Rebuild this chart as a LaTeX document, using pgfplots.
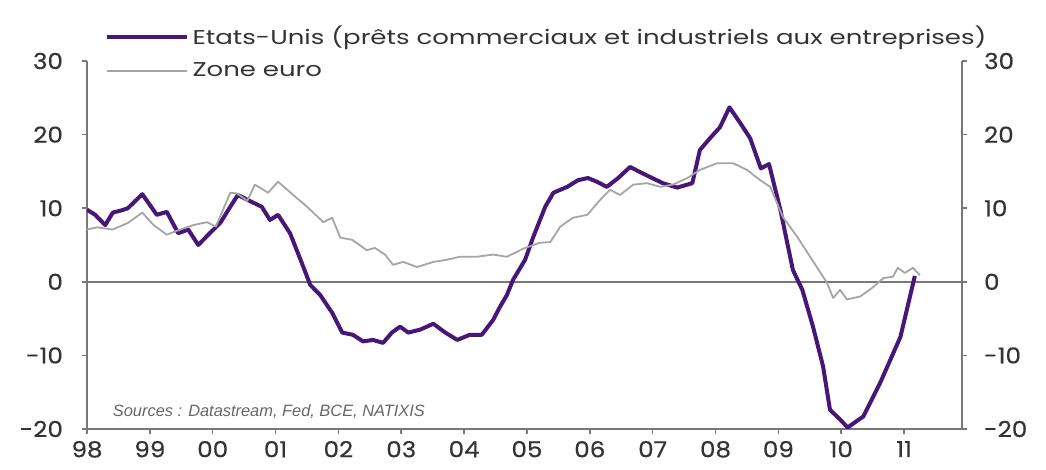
\documentclass[border=0pt]{standalone}
\usepackage{pgfplots}
\pgfplotsset{compat=1.18}
\usepackage{fontspec}
\setmainfont{Poppins}[FakeStretch=1.3]
\newfontfamily\tickfont{Poppins}[FakeStretch=1.12, FakeBold=0.4]
\newfontfamily\srcfont{Liberation Sans}
\definecolor{usviolet}{RGB}{72,22,118}
\definecolor{eurogray}{RGB}{165,165,165}
\definecolor{axgray}{RGB}{120,120,120}
\begin{document}
\begin{tikzpicture}
\pgfplotsset{
  common/.style={
    scale only axis, width=437.5pt, height=184pt,
    xmin=1998, xmax=2011.92, ymin=-20, ymax=30,
    ytick={-20,-10,0,10,20,30},
    yticklabels={-20,-10,0,10,20,30},
    tick align=outside, major tick length=2.5pt,
    axis line style={axgray, line width=1pt},
    tick style={axgray, line width=0.8pt},
    /pgf/number format/assume math mode=true,
    ticklabel style={font=\tickfont\fontsize{11}{13}\selectfont, text=black!80},
  }
}
\begin{axis}[common,
  axis x line*=bottom, axis y line*=left,
  xtick={1998,...,2011},
  xticklabels={98,99,00,01,02,03,04,05,06,07,08,09,10,11},
  yticklabel style={xshift=-6pt},
  legend style={at={(axis description cs:0.02,1.107)}, anchor=north west,
    draw=none, fill=none, font=\fontsize{10}{12}\selectfont,
    row sep=3.5pt, inner sep=0pt, text=black!80,
    legend cell align=left},
  legend image code/.code={\draw[#1] (0cm,0cm) -- (1.4cm,0cm);},
]
\addplot[axgray, line width=1pt, forget plot] coordinates {(1998,0) (2011.92,0)};
\addplot[usviolet, line width=2pt, line join=round] coordinates {
(1998.00,9.8) (1998.13,9.1) (1998.29,7.7) (1998.41,9.4) (1998.55,9.7) (1998.65,10.0)
(1998.88,11.9) (1999.11,9.1) (1999.27,9.5) (1999.45,6.6) (1999.61,7.1) (1999.77,5.0)
(1999.93,6.4) (2000.12,8.0) (2000.28,10.2) (2000.40,11.8) (2000.56,11.1) (2000.78,10.2)
(2000.91,8.4) (2001.04,9.1) (2001.23,6.6) (2001.42,2.5) (2001.55,-0.4) (2001.71,-1.8)
(2001.90,-4.2) (2002.06,-6.9) (2002.23,-7.2) (2002.39,-8.1) (2002.55,-7.9) (2002.71,-8.3)
(2002.85,-6.9) (2002.98,-6.1) (2003.11,-6.9) (2003.30,-6.5) (2003.51,-5.7) (2003.70,-6.9)
(2003.89,-7.9) (2004.09,-7.2) (2004.28,-7.2) (2004.46,-5.2) (2004.57,-3.4) (2004.68,-1.8)
(2004.78,0.3) (2004.97,3.0) (2005.10,6.1) (2005.29,10.2) (2005.42,12.1) (2005.64,12.9)
(2005.81,13.8) (2005.97,14.1) (2006.11,13.6) (2006.27,12.9) (2006.45,14.1) (2006.64,15.6)
(2006.80,14.9) (2006.99,14.1) (2007.16,13.4) (2007.39,12.8) (2007.63,13.4) (2007.75,17.9)
(2007.91,19.5) (2008.07,21.0) (2008.22,23.7) (2008.39,21.6) (2008.55,19.5) (2008.72,15.4)
(2008.85,16.0) (2009.03,9.8) (2009.23,1.6) (2009.38,-1.1) (2009.55,-6.1) (2009.71,-11.5)
(2009.82,-17.4) (2009.98,-18.7) (2010.10,-19.8) (2010.35,-18.3) (2010.62,-13.7)
(2010.94,-7.5) (2011.17,0.8)
};
\addlegendentry{Etats-Unis (prêts commerciaux et industriels aux entreprises)}
\addplot[eurogray, line width=0.9pt, line join=round] coordinates {
(1998.00,7.1) (1998.16,7.4) (1998.41,7.1) (1998.65,8.0) (1998.88,9.4) (1999.06,7.7)
(1999.27,6.4) (1999.45,7.0) (1999.69,7.7) (1999.91,8.1) (2000.05,7.5) (2000.28,12.1)
(2000.39,12.0) (2000.55,11.0) (2000.67,13.2) (2000.88,12.1) (2001.04,13.6) (2001.28,11.8)
(2001.50,10.2) (2001.76,8.1) (2001.90,8.7) (2002.03,6.0) (2002.22,5.7) (2002.45,4.3)
(2002.58,4.6) (2002.74,3.7) (2002.87,2.3) (2003.03,2.7) (2003.25,2.0) (2003.51,2.7)
(2003.73,3.0) (2003.93,3.4) (2004.20,3.4) (2004.46,3.7) (2004.68,3.4) (2004.94,4.5)
(2005.20,5.3) (2005.37,5.4) (2005.53,7.5) (2005.73,8.7) (2005.96,9.1) (2006.16,11.1)
(2006.32,12.5) (2006.48,11.8) (2006.69,13.2) (2006.91,13.4) (2007.12,12.9) (2007.32,13.2)
(2007.55,14.1) (2007.75,15.2) (2008.02,16.1) (2008.28,16.1) (2008.50,15.2) (2008.71,13.8)
(2008.87,12.9) (2009.07,8.8) (2009.30,6.1) (2009.61,2.0) (2009.77,-0.1) (2009.87,-2.2)
(2009.98,-1.1) (2010.09,-2.4) (2010.30,-2.0) (2010.51,-0.7) (2010.67,0.5) (2010.82,0.7)
(2010.90,1.9) (2011.01,1.2) (2011.14,1.9) (2011.25,0.9)
};
\addlegendentry{Zone euro}
\node[anchor=west, font=\srcfont\itshape\fontsize{8.2}{10}\selectfont, text=black!60] at (axis cs:1998.3,-17.6) {Sources : Datastream, Fed, BCE, NATIXIS};
\end{axis}
\begin{axis}[common,
  axis x line=none, axis y line*=right,
  yticklabel style={xshift=5pt},
]
\end{axis}
\pgfresetboundingbox
\path[use as bounding box] ([shift={(-43.5pt,-20.5pt)}]current axis.south west) rectangle ([shift={(42pt,30.5pt)}]current axis.north east);
\end{tikzpicture}
\end{document}
